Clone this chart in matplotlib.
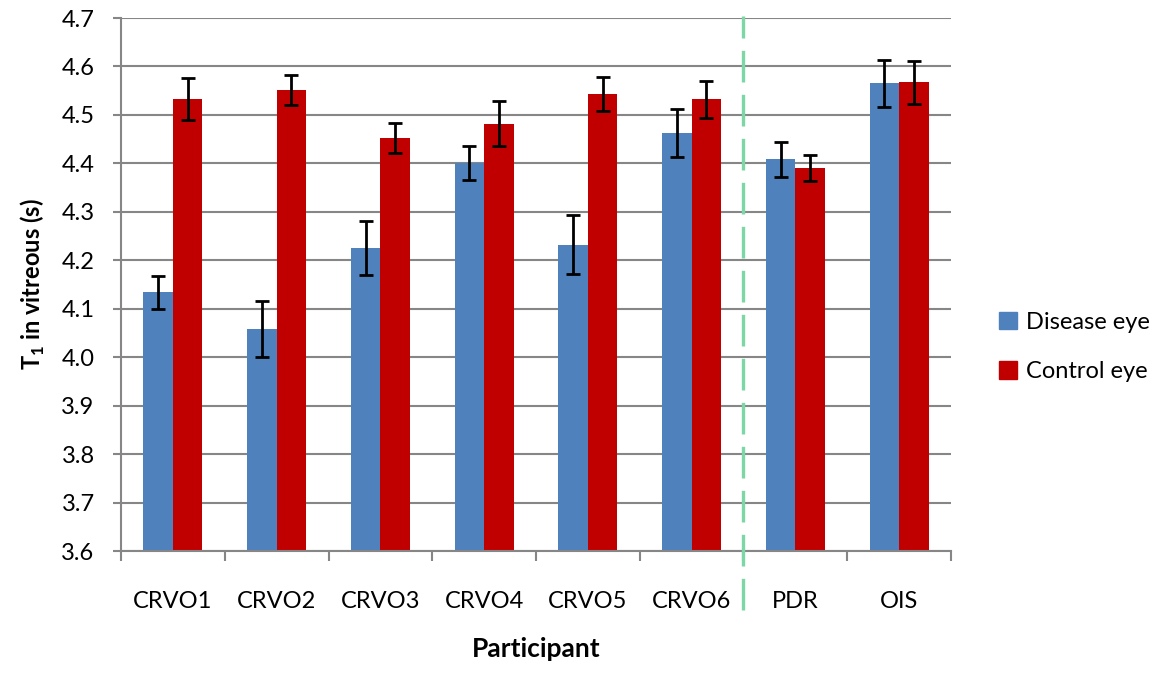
import matplotlib
matplotlib.use("Agg")
import matplotlib.pyplot as plt
from matplotlib.patches import Patch
import numpy as np

# values
participants = ["CRVO1", "CRVO2", "CRVO3", "CRVO4", "CRVO5", "CRVO6", "PDR", "OIS"]
disease_t1 = [4.134, 4.058, 4.226, 4.400, 4.232, 4.463, 4.408, 4.565]
disease_err = [0.034, 0.057, 0.056, 0.035, 0.061, 0.049, 0.037, 0.048]
control_t1 = [4.533, 4.552, 4.453, 4.482, 4.544, 4.532, 4.391, 4.567]
control_err = [0.043, 0.031, 0.031, 0.046, 0.035, 0.038, 0.027, 0.045]

BLUE = "#4F81BD"
RED = "#C00000"
GRID = "#868686"
GREEN = "#7dd6a5"

plt.rcParams['font.family'] = ['Lato', 'DejaVu Sans']

fig = plt.figure(figsize=(11.67, 6.8), dpi=100)
ax = fig.add_axes([121 / 1167, 1 - 551 / 680, (951 - 121) / 1167, (551 - 18) / 680])

x = np.arange(len(participants))
w = 0.285

ax.bar(x - w / 2, disease_t1, w, color=BLUE, zorder=2)
ax.bar(x + w / 2, control_t1, w, color=RED, zorder=2)
ax.errorbar(x - w / 2, disease_t1, yerr=disease_err, fmt="none", ecolor="black",
            elinewidth=2.0, capsize=5, capthick=2.0, zorder=3)
ax.errorbar(x + w / 2, control_t1, yerr=control_err, fmt="none", ecolor="black",
            elinewidth=2.0, capsize=5, capthick=2.0, zorder=3)

ax.set_ylim(3.6, 4.7)
ax.set_xlim(-0.5, len(participants) - 0.5)
yt = np.arange(3.6, 4.71, 0.1)
ax.set_yticks(yt)
ax.set_yticklabels([f"{v:.1f}" for v in yt])
ax.yaxis.grid(True, color=GRID, linewidth=1.5, zorder=0)
ax.set_axisbelow(True)

# labels at category centres, tick marks at category boundaries
ax.set_xticks(x)
ax.set_xticklabels(participants)
ax.set_xticks(np.arange(-0.5, len(participants), 1), minor=True)
ax.tick_params(axis="x", which="major", length=0, pad=29, labelsize=17)
ax.tick_params(axis="x", which="minor", length=7, width=1.5, color=GRID)
ax.tick_params(axis="y", length=6, width=1.5, color=GRID, pad=13, labelsize=17)

for s in ["top", "right"]:
    ax.spines[s].set_visible(False)
for s in ["left", "bottom"]:
    ax.spines[s].set_color(GRID)
    ax.spines[s].set_linewidth(1.5)

# dashed separator between CRVO and the other participants (drawn bottom-up)
ax.plot([5.5, 5.5], [-0.111, 1.004], transform=ax.get_xaxis_transform(),
        color=GREEN, linewidth=2.4, dashes=(9.5, 3.7), clip_on=False, zorder=4)

ax.set_ylabel(r"T$_\mathregular{1}$ in vitreous (s)", fontsize=17, fontweight="bold", labelpad=10)
ax.set_xlabel("Participant", fontsize=19, fontweight="bold", labelpad=18)

handles = [Patch(color=BLUE, label="Disease eye"), Patch(color=RED, label="Control eye")]
fig.legend(handles=handles, loc="center left", bbox_to_anchor=(978 / 1167, 1 - 347 / 680),
           frameon=False, fontsize=17, handlelength=0.75, handleheight=0.75,
           handletextpad=0.4, labelspacing=1.2)

fig.savefig("out.png", dpi=100)
